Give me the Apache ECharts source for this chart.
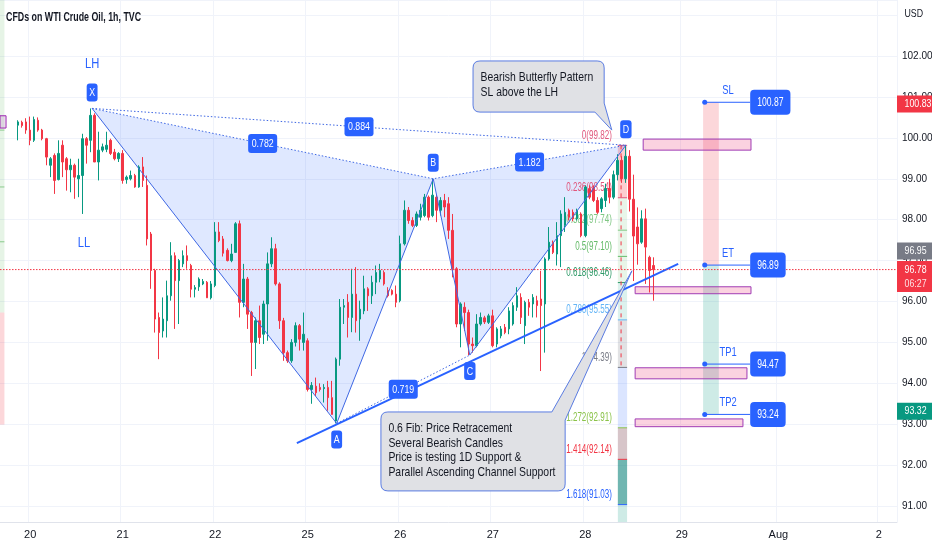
<!DOCTYPE html>
<html>
<head>
<meta charset="utf-8">
<title>CFDs on WTI Crude Oil, 1h, TVC</title>
<script src="https://cdn.jsdelivr.net/npm/echarts@6.0.0/dist/echarts.min.js"></script>
</head>
<body style="margin:0;background:#fff;">
<div id="main" style="width:932px;height:550px;"></div>
<script>
var FONT = "'Liberation Sans', Arial, sans-serif";

// time axis: one slot per hourly bar, day labels sit on the first bar of the day
var barCount = 223;
var dayLabels = ['20', '21', '22', '25', '26', '27', '28', '29', 'Aug', '2'];
var dayStarts = [7, 30, 53, 76, 99, 122, 145, 169, 193, 218];
var priceMin = 90.61, priceMax = 103.37;

// hourly candles [open, close, low, high], the first one is bar 4
var firstBar = 4;
var ohlc = [
  [100.31, 100.39, 99.94, 100.43], [100.38, 100.30, 100.25, 100.42], [100.39, 100.19, 100.10, 100.48],
  [100.19, 99.94, 99.82, 100.52], [99.94, 100.45, 99.90, 100.52], [100.43, 100.19, 100.15, 100.50],
  [100.19, 99.98, 99.94, 100.22], [99.98, 99.53, 99.33, 100.00], [99.33, 99.49, 99.04, 99.53],
  [99.57, 98.96, 98.63, 99.62], [98.98, 99.62, 98.96, 99.94], [99.82, 99.41, 99.04, 99.94],
  [99.49, 99.22, 98.71, 99.53], [99.22, 99.33, 98.67, 99.49], [99.33, 99.04, 98.51, 99.37],
  [99.00, 99.08, 98.55, 99.49], [99.08, 99.98, 98.14, 100.10], [99.98, 99.82, 99.37, 100.02],
  [99.94, 100.55, 99.65, 100.72], [100.55, 99.41, 99.41, 100.60], [99.41, 99.70, 98.96, 100.15],
  [99.70, 99.78, 99.65, 99.86], [99.72, 99.82, 99.65, 100.15], [99.94, 99.62, 99.58, 99.98],
  [99.65, 99.49, 99.45, 99.73], [99.49, 99.62, 99.41, 99.65], [99.62, 98.96, 98.88, 99.70],
  [98.98, 99.04, 98.88, 99.08], [99.00, 99.08, 98.96, 99.20], [99.08, 98.80, 98.78, 99.12],
  [98.80, 99.29, 98.78, 99.33], [99.29, 98.96, 98.80, 99.53], [98.84, 97.53, 97.37, 99.08],
  [97.65, 96.76, 96.31, 97.70], [96.76, 95.57, 95.24, 96.80], [95.61, 95.24, 94.59, 95.73],
  [95.28, 95.57, 95.12, 96.10], [95.53, 96.14, 95.12, 96.51], [96.14, 97.12, 96.02, 97.45],
  [97.12, 96.51, 95.33, 97.20], [96.51, 97.00, 95.45, 97.04], [96.92, 97.12, 96.84, 97.25],
  [97.12, 97.00, 96.80, 97.37], [96.88, 96.30, 96.10, 96.92], [96.30, 96.34, 96.10, 96.40],
  [96.36, 96.55, 96.26, 96.59], [96.43, 96.49, 96.40, 96.55], [96.47, 96.09, 96.09, 96.50],
  [96.09, 96.43, 96.05, 96.50], [96.39, 97.70, 96.35, 97.94], [97.70, 97.49, 97.45, 97.94],
  [97.53, 97.18, 97.10, 97.60], [97.25, 97.00, 96.98, 97.30], [97.00, 97.16, 96.96, 97.41],
  [97.20, 97.90, 97.20, 97.94], [97.90, 95.98, 95.61, 97.98], [95.98, 96.55, 95.86, 96.92],
  [96.55, 95.69, 95.33, 96.60], [95.73, 95.00, 94.18, 95.77], [95.00, 95.53, 94.35, 95.61],
  [95.53, 95.12, 94.96, 95.90], [95.20, 95.94, 94.96, 96.02], [95.94, 96.92, 95.04, 97.20],
  [96.92, 97.29, 96.84, 97.57], [97.29, 96.43, 96.39, 97.41], [96.43, 95.53, 95.33, 96.47],
  [95.53, 94.75, 94.55, 95.60], [94.75, 94.55, 94.50, 94.80], [94.55, 95.00, 94.50, 95.08],
  [95.00, 95.41, 94.90, 95.49], [95.41, 95.08, 94.80, 95.45], [95.00, 95.20, 94.80, 95.73],
  [95.04, 93.85, 93.80, 95.10], [93.85, 93.95, 93.50, 94.03], [93.93, 93.77, 93.69, 94.14],
  [93.90, 93.85, 93.80, 94.00], [93.87, 93.90, 93.53, 93.98], [93.90, 93.65, 93.33, 94.06],
  [93.65, 93.24, 93.24, 94.06], [93.08, 94.59, 93.02, 94.63], [94.59, 95.86, 94.43, 96.06],
  [95.86, 95.90, 95.45, 96.06], [95.98, 95.61, 95.12, 96.18], [95.61, 96.18, 95.25, 96.80],
  [96.18, 95.53, 95.24, 96.84], [95.57, 95.81, 95.04, 96.02], [95.77, 96.31, 95.69, 96.63],
  [96.31, 96.14, 95.77, 96.35], [96.14, 96.47, 95.94, 96.63], [96.47, 96.71, 96.18, 96.88],
  [96.55, 96.76, 96.47, 96.92], [96.71, 96.43, 96.39, 96.76], [96.27, 96.14, 96.10, 96.35],
  [96.27, 96.18, 96.15, 96.30], [96.18, 95.98, 95.86, 96.39], [96.02, 97.41, 95.98, 97.61],
  [97.41, 98.23, 97.37, 98.47], [98.23, 97.98, 97.90, 98.31], [97.98, 97.86, 97.82, 98.06],
  [97.86, 98.14, 97.82, 98.20], [98.06, 98.23, 97.98, 98.39], [98.10, 98.55, 98.06, 98.63],
  [98.55, 98.06, 97.98, 98.59], [98.10, 98.60, 98.06, 99.00], [98.55, 98.23, 97.94, 98.63],
  [98.23, 98.47, 98.10, 98.55], [98.47, 98.31, 98.06, 98.63], [98.39, 97.74, 97.53, 98.55],
  [97.74, 96.80, 96.59, 98.14], [96.80, 95.45, 95.37, 96.84], [95.45, 95.94, 94.88, 95.98],
  [95.86, 95.73, 95.28, 95.98], [95.73, 94.96, 94.69, 95.80], [94.96, 94.92, 94.75, 95.12],
  [94.92, 95.45, 94.88, 95.69], [95.45, 95.61, 95.41, 95.73], [95.60, 95.50, 95.45, 95.65],
  [95.49, 95.65, 95.45, 95.70], [95.65, 94.92, 94.88, 95.80], [94.96, 95.33, 94.88, 95.37],
  [95.16, 95.33, 95.10, 95.40], [95.37, 95.24, 95.20, 95.45], [95.33, 95.77, 95.20, 95.86],
  [95.45, 95.90, 95.41, 95.98], [95.86, 96.14, 95.77, 96.35], [96.10, 95.61, 95.45, 96.20],
  [95.41, 95.98, 94.96, 96.02], [95.98, 95.86, 95.65, 96.06], [95.94, 96.10, 95.61, 96.18],
  [96.02, 95.90, 95.61, 96.14], [96.06, 95.90, 94.30, 96.75], [95.94, 97.04, 94.75, 97.08],
  [97.04, 97.45, 97.00, 97.82], [97.45, 97.20, 97.16, 97.49], [97.16, 97.61, 96.88, 97.94],
  [97.61, 98.14, 96.84, 98.23], [97.86, 98.18, 97.70, 98.55], [98.23, 98.06, 97.98, 98.27],
  [98.18, 98.02, 97.96, 98.25], [98.02, 98.23, 97.98, 98.27], [98.14, 97.61, 97.57, 98.18],
  [97.61, 98.80, 97.57, 98.84], [98.76, 98.55, 98.50, 98.84], [98.76, 98.47, 98.43, 98.84],
  [98.47, 98.18, 98.14, 98.55], [98.27, 98.51, 98.18, 98.55], [98.47, 98.76, 98.31, 98.88],
  [98.76, 98.55, 98.40, 99.00], [98.55, 99.10, 98.50, 99.20], [99.10, 99.45, 98.96, 99.60],
  [99.45, 99.00, 98.90, 99.55], [99.00, 99.55, 98.90, 99.82], [99.55, 98.50, 98.20, 99.70],
  [98.50, 97.60, 96.50, 99.10], [97.82, 97.41, 96.90, 98.30], [97.45, 98.02, 97.41, 98.23],
  [98.02, 97.33, 96.43, 98.27], [97.08, 96.76, 96.22, 97.12], [96.88, 96.78, 96.02, 97.08]
];
var lastPrice = 96.78;

// butterfly pivots [name, bar, price]
var pattern = [['X', 22.4, 100.72], ['A', 83.2, 93.02], ['B', 107.2, 99.00], ['C', 116.3, 94.69], ['D', 155.1, 99.82]];
var ratioLabels = [['0.782', 'X', 'B'], ['0.884', 'X', 'D'], ['1.182', 'B', 'D'], ['0.719', 'A', 'C']];
var swingNotes = [['LH', 22.4, 101.81], ['LL', 20.4, 97.43]];

// fib retracement drawn from 94.39 up to 99.82
var fibHigh = 99.817, fibLow = 94.389;
var fibRatios = [0, 0.236, 0.382, 0.5, 0.618, 0.786, 1, 1.272, 1.414, 1.618];
var fibColors = ['#e0577c', '#e0577c', '#81c784', '#66bb6a', '#2e9a68', '#64b5f6', '#787b86', '#8bc34a', '#f23645', '#2962ff'];
var fibFills = ['rgba(242,54,69,0.25)', 'rgba(129,199,132,0.18)', 'rgba(76,175,80,0.13)', 'rgba(76,175,80,0.13)',
  'rgba(8,153,129,0.14)', 'rgba(120,123,134,0.22)', 'rgba(41,98,255,0.17)', 'rgba(140,90,100,0.35)',
  'rgba(8,130,120,0.58)', 'rgba(8,153,129,0.2)'];

var channel = [[73.3, 92.54], [168.1, 96.92]];
var zones = [[159.4, 186.2, 99.70, 99.97], [157.4, 186.2, 96.19, 96.36], [157.4, 185.2, 94.11, 94.38], [157.4, 184.2, 92.94, 93.13]];
var trade = [['SL', 100.87], ['ET', 96.89], ['TP1', 94.47], ['TP2', 93.24]];
var scaleTags = [['100.83', 100.83, '#f23645', ''], ['96.95', 96.95, '#787b86', ''], ['96.78', 96.78, '#f23645', '06:27'], ['93.32', 93.32, '#089981', '']];

var notes = [
  {lines: ['Bearish Butterfly Pattern', 'SL above the LH'], box: [117.1, 149.7, 100.63, 101.88], tip: [151.6, 100.19], side: 'br', baseBar: 147.4, basePrice: 100.85},
  {lines: ['0.6 Fib: Price Retracement', 'Several Bearish Candles', 'Price is testing 1D Support &', 'Parallel Ascending Channel Support'],
    box: [94.2, 140.0, 91.37, 93.30], tip: [156.6, 96.75], side: 'tr', baseBar: 136.7, basePrice: 93.10}
];

var cats = [];
for (var i = 0; i < barCount; i++) cats.push('');
dayStarts.forEach(function (b, k) { cats[b] = dayLabels[k]; });
var candleData = ohlc.map(function (d, i) { return [firstBar + i].concat(d); });
var pts = {};
pattern.forEach(function (d) { pts[d[0]] = [d[1], d[2]]; });

var measure = document.createElement('canvas').getContext('2d');
function textW(t, size) { measure.font = size + 'px ' + FONT; return measure.measureText(t).width; }

// the screenshot's UI font is narrow, so annotation text is squeezed horizontally
function textEl(x, y, t, color, size, align, squeeze, weight) {
  return {type: 'text', x: x, y: y, scaleX: squeeze || 0.8, style: {text: t, fill: color, fontSize: size, fontFamily: FONT,
    fontWeight: weight || 'normal', align: align || 'center', verticalAlign: 'middle'}};
}

function backLayer(params, api) {
  var c = function (x, y) { return api.coord([x, y]); };
  var kids = [];
  function box(x0, x1, lo, hi, style) {
    var a = c(x0, hi), b = c(x1, lo);
    kids.push({type: 'rect', shape: {x: a[0], y: a[1], width: b[0] - a[0], height: b[1] - a[1]}, style: style});
  }
  function hline(x0, x1, p, color) {
    var a = c(x0, p), b = c(x1, p);
    kids.push({type: 'line', shape: {x1: a[0], y1: a[1], x2: b[0], y2: b[1]}, style: {stroke: color, lineWidth: 1}});
  }
  // leftovers of an older drawing on the left edge
  box(-0.5, 0.6, 95.73, priceMax, {fill: 'rgba(76,175,80,0.14)'});
  box(-0.5, 0.6, 92.99, 95.73, {fill: 'rgba(242,54,69,0.2)'});
  [100.19, 98.80, 97.46].forEach(function (p) { hline(-0.5, 0.6, p, 'rgba(76,175,80,0.6)'); });
  box(-0.5, 1.0, 100.24, 100.54, {fill: 'rgba(156,39,176,0.15)', stroke: '#9c27b0', lineWidth: 1});

  // butterfly legs
  [['X', 'A', 'B'], ['B', 'C', 'D']].forEach(function (t) {
    kids.push({type: 'polygon', shape: {points: t.map(function (k) { return c(pts[k][0], pts[k][1]); })},
      style: {fill: 'rgba(41,98,255,0.15)'}});
  });

  // fib strip and labels
  var lv = fibRatios.map(function (r) { return fibHigh - r * (fibHigh - fibLow); });
  lv.forEach(function (p, k) {
    var lo = k < lv.length - 1 ? lv[k + 1] : priceMin;
    box(153.1, 155.4, lo, p, {fill: fibFills[k]});
  });
  lv.forEach(function (p, k) {
    hline(153.1, 155.4, p, fibColors[k]);
    var q = c(151.6, p);
    kids.push(textEl(q[0], q[1] - 10, fibRatios[k] + '(' + p.toFixed(2) + ')', fibColors[k], 12, 'right', 0.67));
  });

  // risk / reward block
  box(174.3, 178.2, trade[1][1], trade[0][1], {fill: 'rgba(242,54,69,0.2)'});
  box(174.3, 178.2, trade[3][1], trade[1][1], {fill: 'rgba(8,153,129,0.2)'});

  zones.forEach(function (z) {
    box(z[0], z[1], z[2], z[3], {fill: 'rgba(233,30,99,0.2)', stroke: '#a03cb4', lineWidth: 1});
  });
  return {type: 'group', children: kids};
}

function frontLayer(params, api) {
  var c = function (x, y) { return api.coord([x, y]); };
  var kids = [];
  function text(x, y, t, color, size, align, squeeze, weight) { kids.push(textEl(x, y, t, color, size, align, squeeze, weight)); }
  function tag(x, cy, t, fill, size, h, padX, r, squeeze, anchor) {
    var w = textW(t, size) * squeeze + padX * 2;
    var x0 = anchor === 'left' ? x : x - w / 2;
    kids.push({type: 'rect', shape: {x: x0, y: cy - h / 2, width: w, height: h, r: r}, style: {fill: fill}});
    text(x0 + w / 2, cy + 0.5, t, '#ffffff', size, 'center', squeeze);
  }

  text(6, 17, 'CFDs on WTI Crude Oil, 1h, TVC', '#131722', 13, 'left', 0.68, 'bold');

  ratioLabels.forEach(function (r) {
    var a = pts[r[1]], b = pts[r[2]];
    var m = c((a[0] + b[0]) / 2, (a[1] + b[1]) / 2);
    tag(m[0], m[1], r[0], '#2962ff', 11, 19, 3.5, 3, 0.8);
  });
  pattern.forEach(function (d, k) {
    var p = c(d[1], d[2]);
    tag(p[0], p[1] + (k % 2 === 0 ? -16 : 16), d[0], '#2962ff', 11, 18, 2.5, 3, 0.8);
  });
  swingNotes.forEach(function (s) {
    var p = c(s[1], s[2]);
    text(p[0], p[1], s[0], '#2962ff', 14, 'center', 0.8);
  });

  // callouts
  notes.forEach(function (n) {
    var a = c(n.box[0], n.box[3]), b = c(n.box[1], n.box[2]);
    var x0 = a[0], y0 = a[1], x1 = b[0], y1 = b[1], r = 7;
    var t = c(n.tip[0], n.tip[1]);
    var bx = c(n.baseBar, 0)[0], by = c(0, n.basePrice)[1];
    var d;
    if (n.side === 'br') {
      d = 'M' + (x0 + r) + ' ' + y0 + ' L' + (x1 - r) + ' ' + y0 + ' Q' + x1 + ' ' + y0 + ' ' + x1 + ' ' + (y0 + r) +
        ' L' + x1 + ' ' + by + ' L' + t[0] + ' ' + t[1] + ' L' + bx + ' ' + y1 + ' L' + (x0 + r) + ' ' + y1 +
        ' Q' + x0 + ' ' + y1 + ' ' + x0 + ' ' + (y1 - r) + ' L' + x0 + ' ' + (y0 + r) + ' Q' + x0 + ' ' + y0 + ' ' + (x0 + r) + ' ' + y0 + ' Z';
    } else {
      d = 'M' + (x0 + r) + ' ' + y0 + ' L' + bx + ' ' + y0 + ' L' + t[0] + ' ' + t[1] + ' L' + x1 + ' ' + by +
        ' L' + x1 + ' ' + (y1 - r) + ' Q' + x1 + ' ' + y1 + ' ' + (x1 - r) + ' ' + y1 + ' L' + (x0 + r) + ' ' + y1 +
        ' Q' + x0 + ' ' + y1 + ' ' + x0 + ' ' + (y1 - r) + ' L' + x0 + ' ' + (y0 + r) + ' Q' + x0 + ' ' + y0 + ' ' + (x0 + r) + ' ' + y0 + ' Z';
    }
    kids.push({type: 'path', shape: {pathData: d}, style: {fill: '#e0e1e5', stroke: '#5a7ce2', lineWidth: 1}});
    n.lines.forEach(function (l, k) {
      text(x0 + 7.5, y0 + 16.5 + k * 14.5, l, '#131722', 13, 'left', 0.8);
    });
  });

  // trade levels
  trade.forEach(function (t) {
    var d = c(174.7, t[1]), e = c(186.0, t[1]), m = c(180.5, t[1]);
    kids.push({type: 'line', shape: {x1: d[0], y1: d[1], x2: e[0], y2: e[1]}, style: {stroke: '#2962ff', lineWidth: 1}});
    kids.push({type: 'circle', shape: {cx: d[0], cy: d[1], r: 2.5}, style: {fill: '#2962ff'}});
    text(m[0], m[1] - 11.5, t[0], '#2962ff', 13, 'center', 0.72);
    tag(e[0], e[1], t[1].toFixed(2), '#2962ff', 13, 25, 7, 4, 0.66, 'left');
  });

  // price scale tags
  var sx = params.coordSys.x + params.coordSys.width;
  var rects = scaleTags.map(function (s) {
    var y = c(0, s[1])[1], h = s[3] ? 31 : 17;
    return {top: s[3] ? y - 8.5 : y - h / 2, h: h, s: s};
  });
  for (var k = rects.length - 2; k >= 0; k--) {
    var lower = rects[k + 1];
    if (rects[k].top + rects[k].h > lower.top - 1) rects[k].top = lower.top - 1.5 - rects[k].h;
  }
  rects.forEach(function (r) {
    kids.push({type: 'rect', shape: {x: sx, y: r.top, width: 932 - sx, height: r.h}, style: {fill: r.s[2]}});
    text(sx + 7.5, r.top + 8.5, r.s[0], '#ffffff', 11, 'left', 0.8);
    if (r.s[3]) text(sx + 7.5, r.top + 23, r.s[3], 'rgba(255,255,255,0.85)', 11, 'left', 0.8);
  });
  text(sx + 7.5, 14, 'USD', '#131722', 11, 'left', 0.8);
  return {type: 'group', children: kids};
}

function lineSeries(data, color, width, type) {
  return {type: 'line', xAxisIndex: 1, yAxisIndex: 0, data: data, symbol: 'none', silent: true, z: 4,
    lineStyle: {color: color, width: width, type: type || 'solid'}, animation: false};
}
function pair(a, b) { return [pts[a], pts[b]]; }

var chart = echarts.init(document.getElementById('main'));
var option = {
  animation: false,
  backgroundColor: '#ffffff',
  grid: {left: 0, right: 35, top: 0, bottom: 28, containLabel: false, outerBoundsMode: 'none'},
  xAxis: [{
    type: 'category', data: cats, boundaryGap: true,
    axisLine: {lineStyle: {color: '#e0e3eb'}},
    axisTick: {show: false},
    axisLabel: {interval: function (i) { return cats[i] !== ''; }, color: '#131722', fontSize: 11, fontFamily: FONT, margin: 7},
    splitLine: {show: true, interval: function (i) { return cats[i] !== ''; }, lineStyle: {color: '#f0f3fa'}}
  }, {
    type: 'value', min: -0.5, max: barCount - 0.5, show: false
  }],
  yAxis: [{
    type: 'value', position: 'right', min: priceMin, max: priceMax, splitNumber: 13, scale: true,
    axisLine: {show: false}, axisTick: {show: false},
    axisLabel: {color: '#131722', fontSize: 10, fontFamily: FONT, margin: 5, showMinLabel: false, showMaxLabel: false,
      formatter: function (v) { return (Math.abs(v - Math.round(v)) < 1e-6 && v < 102.5) ? v.toFixed(2) : ''; }},
    splitLine: {lineStyle: {color: '#f0f3fa'}}
  }],
  series: [
    {type: 'custom', xAxisIndex: 1, yAxisIndex: 0, z: 1, silent: true, data: [[100, 95]], renderItem: backLayer},
    {type: 'candlestick', xAxisIndex: 0, yAxisIndex: 0, z: 3, data: candleData, barWidth: 2,
      encode: {x: 0, y: [1, 2, 3, 4]},
      itemStyle: {color: '#089981', color0: '#f23645', borderColor: '#089981', borderColor0: '#f23645', borderWidth: 1}},
    lineSeries(pattern.map(function (d) { return [d[1], d[2]]; }), '#3f68e4', 1),
    lineSeries([pts.X, pts.B, pts.D], '#3f68e4', 1, [1.5, 2]),
    lineSeries(pair('X', 'D'), '#3f68e4', 1, [1.5, 2]),
    lineSeries(pair('A', 'C'), '#3f68e4', 1, [1.5, 2]),
    lineSeries(channel, '#2962ff', 2),
    lineSeries([[-0.5, lastPrice], [barCount - 0.5, lastPrice]], '#f23645', 1, [1.5, 1.5]),
    lineSeries([[153.9, fibHigh], [153.9, fibLow]], '#f23645', 1, [4, 4]),
    {type: 'custom', xAxisIndex: 1, yAxisIndex: 0, z: 6, silent: true, data: [[100, 95]], renderItem: frontLayer}
  ]
};
chart.setOption(option);
</script>
</body>
</html>
